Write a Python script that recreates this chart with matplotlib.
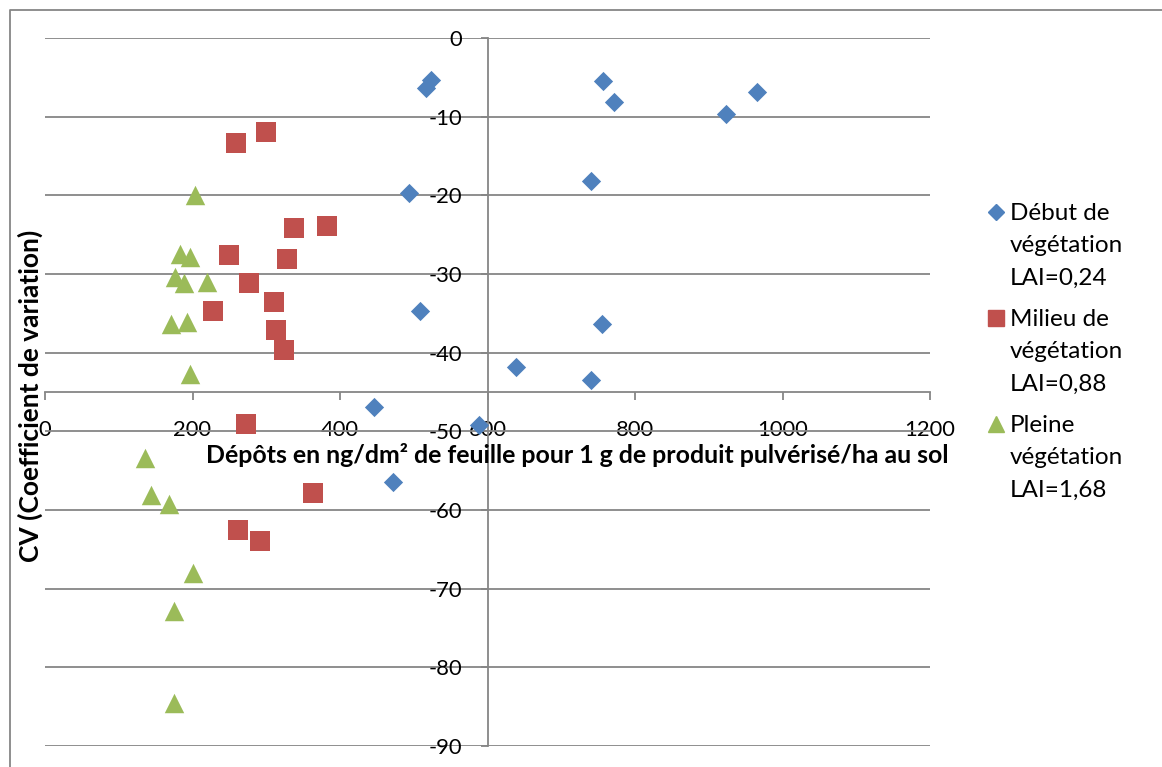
import matplotlib.pyplot as plt
from matplotlib.lines import Line2D

plt.rcParams['font.family'] = ['Lato', 'DejaVu Sans']
plt.rcParams['axes.unicode_minus'] = False

# Début de végétation LAI=0,24
debut_x = [524, 517, 494, 509, 757, 772, 923, 965, 741, 755, 638, 741, 446, 472, 589]
debut_y = [-5.3, -6.3, -19.7, -34.7, -5.5, -8.1, -9.7, -6.9, -18.2, -36.3, -41.8, -43.5, -46.9, -56.5, -49.2]

# Milieu de végétation LAI=0,88
milieu_x = [259, 300, 337, 382, 250, 328, 276, 310, 228, 313, 324, 272, 363, 262, 291]
milieu_y = [-13.4, -12.0, -24.1, -23.9, -27.6, -28.1, -31.1, -33.6, -34.7, -37.1, -39.7, -49.1, -57.9, -62.6, -63.9]

# Pleine végétation LAI=1,68
pleine_x = [203, 183, 197, 176, 189, 220, 171, 192, 197, 136, 144, 168, 201, 175, 175]
pleine_y = [-20.0, -27.5, -27.8, -30.4, -31.2, -31.0, -36.3, -36.1, -42.7, -53.4, -58.1, -59.3, -68.0, -72.8, -84.5]

x_ticks = [0, 200, 400, 600, 800, 1000, 1200]
y_ticks = [0, -10, -20, -30, -40, -50, -60, -70, -80, -90]

labels = ['Début de\nvégétation\nLAI=0,24', 'Milieu de\nvégétation\nLAI=0,88', 'Pleine\nvégétation\nLAI=1,68']
colors = ['#4F81BD', '#C0504D', '#9BBB59']
markers = ['D', 's', '^']

grey = '#868686'
W, H = 1162, 767

fig = plt.figure(figsize=(11.62, 7.67), dpi=100)
ax = fig.add_axes([45 / W, 1 - 746 / H, 885 / W, 708 / H])

ax.scatter(debut_x, debut_y, marker='D', s=9.8 ** 2, color=colors[0], zorder=3, linewidths=0)
ax.scatter(milieu_x, milieu_y, marker='s', s=14.5 ** 2, color=colors[1], zorder=3, linewidths=0)
ax.scatter(pleine_x, pleine_y, marker='^', s=14 ** 2, color=colors[2], zorder=3, linewidths=0)

ax.set_xlim(0, 1200)
ax.set_ylim(-90, 0)
ax.set_xticks(x_ticks)
ax.set_yticks(y_ticks)

# axes cross inside the plot, like the Excel original
ax.spines['left'].set_position(('data', 600))
ax.spines['bottom'].set_position(('data', -45))
ax.spines['top'].set_visible(False)
ax.spines['right'].set_visible(False)
for s in ['left', 'bottom']:
    ax.spines[s].set_color(grey)
    ax.spines[s].set_linewidth(1.3)

ax.grid(axis='y', color=grey, linewidth=1.3)
ax.set_axisbelow(True)
ax.tick_params(axis='y', direction='out', length=5, width=1.3, color=grey, pad=13, labelsize=15.8)
ax.tick_params(axis='x', direction='out', length=6, width=1.3, color=grey, pad=14, labelsize=15.8)

fig.text(577 / W, 1 - 455 / H, 'Dépôts en ng/dm² de feuille pour 1 g de produit pulvérisé/ha au sol',
         ha='center', va='center', fontsize=17.9, fontweight='bold')
fig.text(30 / W, 1 - 396 / H, 'CV (Coefficient de variation)', rotation=90,
         ha='center', va='center', fontsize=19, fontweight='bold')

# legend drawn by hand: marker next to first line of a 3-line label
leg_sizes = [8.5, 12, 12]
leg_tops = [203, 309, 415]
for lab, c, m, ms, top in zip(labels, colors, markers, leg_sizes, leg_tops):
    fig.text(1010 / W, 1 - top / H, lab, ha='left', va='top', fontsize=17.5, linespacing=1.66)
    fig.add_artist(Line2D([996 / W], [1 - (top + 9) / H], marker=m, color=c,
                          markersize=ms, linestyle=''))

# outer chart border (top and left edges visible)
fig.add_artist(Line2D([9.5 / W, 9.5 / W, 1], [0, 1 - 10 / H, 1 - 10 / H],
                      color=grey, linewidth=1.3))

fig.savefig('out.png', dpi=100)
